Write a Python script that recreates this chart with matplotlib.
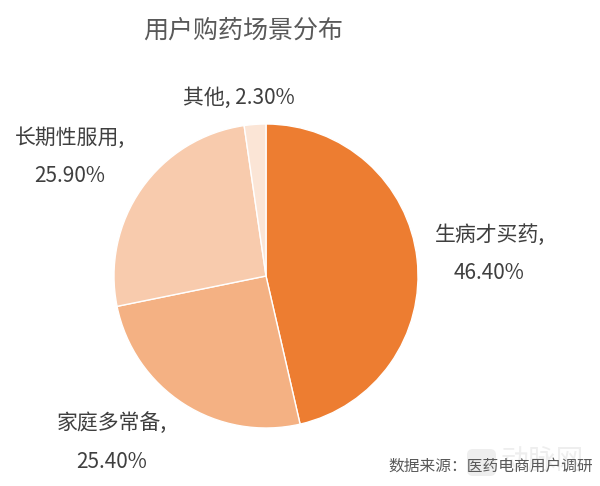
import matplotlib
matplotlib.use('Agg')
import matplotlib.pyplot as plt
from matplotlib.patches import FancyBboxPatch

plt.rcParams['font.family'] = ['Noto Sans CJK SC', 'DejaVu Sans']

title = '用户购药场景分布'
categories = ['生病才买药', '家庭多常备', '长期性服用', '其他']
shares = [46.40, 25.40, 25.90, 2.30]
colors = ['#ED7D31', '#F4B183', '#F8CBAD', '#FBE5D6']
source = '数据来源：医药电商用户调研'

W, H = 600, 486
fig = plt.figure(figsize=(W / 100, H / 100), dpi=100)
ax = fig.add_axes([0, 0, 1, 1])

# pixel-like coordinates, y measured from the bottom
cx, cy, r = 266, H - 276, 152
ax.pie(shares, colors=colors, startangle=90, counterclock=False,
       center=(cx, cy), radius=r,
       wedgeprops=dict(edgecolor='white', linewidth=1))
ax.set_xlim(0, W)
ax.set_ylim(0, H)
ax.set_aspect('equal')
ax.axis('off')

label_color = '#3F3F3F'
fs = 15
weight = 'medium'

def pct(v):
    return f'{v:.2f}%'

def label(x, y, s):
    ax.text(x, H - y, s, ha='center', va='center', fontsize=fs,
            color=label_color, fontweight=weight)

# 生病才买药
label(490, 235, categories[0] + ',')
label(489, 273, pct(shares[0]))
# 家庭多常备
label(112, 423, categories[1] + ',')
label(112, 462, pct(shares[1]))
# 长期性服用
label(70, 138, categories[2] + ',')
label(70, 176, pct(shares[2]))
# 其他
label(239, 98, categories[3] + ', ' + pct(shares[3]))

ax.text(243, H - 31, title, ha='center', va='center', fontsize=18,
        color='#595959', fontweight=weight)

# faint site mark behind the source line
ax.add_patch(FancyBboxPatch((467, H - 476), 29, 27,
                            boxstyle='round,pad=0,rounding_size=6',
                            facecolor='#EEEEEE', edgecolor='none'))
ax.text(542, H - 462, '动脉网', ha='center', va='center', fontsize=20,
        color='#EEEEEE')
ax.text(593, H - 466, source, ha='right', va='center', fontsize=11.3,
        color='#595959', fontweight=weight)

fig.savefig('out.png', dpi=100, facecolor='white')
